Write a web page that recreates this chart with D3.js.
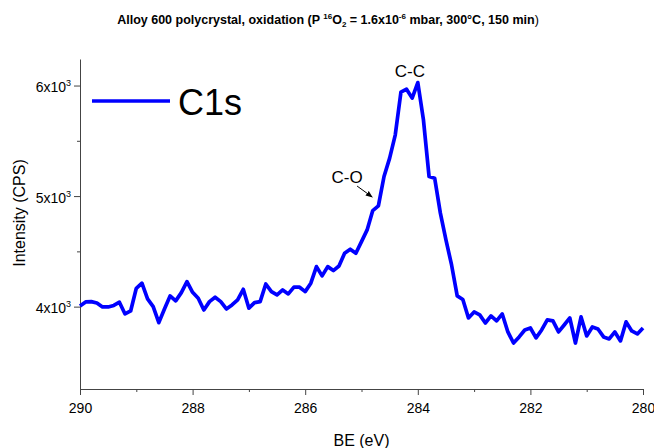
<!DOCTYPE html>
<html><head><meta charset="utf-8">
<script src="https://cdn.jsdelivr.net/npm/d3@7"></script>
<style>
body{margin:0;background:#fff;}
svg{display:block;font-family:"Liberation Sans",Arial,sans-serif;}
</style></head>
<body><svg id="c" width="654" height="448"></svg>
<script>
// Binding energy grid (eV), 0.1 eV steps from 290 to 280
const bindingEnergy = d3.range(0, 101).map(i => +(290 - i * 0.1).toFixed(1));
// C1s intensity (CPS)
const c1sIntensity = [
 4006,4043,4045,4033,3997,3997,4011,4040,3934,3961,
 4166,4212,4070,4000,3855,3979,4097,4052,4127,4226,
 4130,4076,3970,4045,4085,4045,3979,4015,4061,4157,
 3986,4036,4045,4205,4136,4106,4151,4115,4176,4176,
 4136,4212,4362,4278,4362,4326,4368,4483,4519,4483,
 4588,4694,4869,4911,5177,5343,5554,5940,5967,5886,
 6027,5690,5177,5162,4848,4604,4377,4097,4065,3898,
 3952,3925,3852,3916,3871,3934,3771,3671,3726,3789,
 3807,3717,3789,3880,3871,3771,3834,3898,3671,3907,
 3735,3816,3798,3726,3708,3771,3690,3862,3780,3753,
 3807
];
const xMajorTicks = [290, 288, 286, 284, 282, 280];
const xMinorTicks = [289, 287, 285, 283, 281];
const yMajorTicks = [4000, 5000, 6000];
const yMinorTicks = [4500, 5500];
const seriesName = "C1s";
// label anchor (be, value) and arrow tip (be, value)
const annotations = [
  {label: "C-C", be: 284.14, v: 6080},
  {label: "C-O", be: 284.83, v: 5118, tipBe: 284.81, tipV: 4992}
];

const svg = d3.select("#c");
const L = 80, R = 643, T = 59, B = 389;
const x = d3.scaleLinear().domain([290, 280]).range([L, R]);
const y = d3.scaleLinear().domain([3255, 6240]).range([B, T]);
const axisColor = "#444";

// Title
const title = svg.append("text").attr("x", 328).attr("y", 24).attr("text-anchor", "middle")
  .attr("font-size", 12.5).attr("font-weight", "bold").attr("fill", "#000");
title.append("tspan").text("Alloy 600 polycrystal, oxidation (P ");
title.append("tspan").attr("font-size", 8).attr("dy", -5).text("16");
title.append("tspan").attr("dy", 5).text("O");
title.append("tspan").attr("font-size", 8).attr("dy", 3).text("2");
title.append("tspan").attr("dy", -3).text(" = 1.6x10");
title.append("tspan").attr("font-size", 8).attr("dy", -5).text("-6");
title.append("tspan").attr("dy", 5).text(" mbar, 300°C, 150 min");
title.append("tspan").attr("font-weight", "normal").text(")");

// X axis
const gx = svg.append("g").attr("transform", `translate(0,${B})`)
  .call(d3.axisBottom(x).tickValues(xMajorTicks).tickFormat(d3.format("d")).tickSize(6).tickSizeOuter(0));
svg.append("g").attr("transform", `translate(0,${B})`)
  .call(d3.axisBottom(x).tickValues(xMinorTicks).tickFormat("").tickSize(3).tickSizeOuter(0))
  .select(".domain").remove();
// Y axis
const gy = svg.append("g").attr("transform", `translate(${L},0)`)
  .call(d3.axisLeft(y).tickValues(yMajorTicks).tickFormat(d => "").tickSize(6).tickSizeOuter(0));
svg.append("g").attr("transform", `translate(${L},0)`)
  .call(d3.axisLeft(y).tickValues(yMinorTicks).tickFormat("").tickSize(3).tickSizeOuter(0))
  .select(".domain").remove();
svg.selectAll(".domain, .tick line").attr("stroke", axisColor);
gx.selectAll("text").attr("font-size", 14).attr("fill", "#000").attr("font-family", "Liberation Sans, Arial, sans-serif").attr("dy", "1.05em");
gy.selectAll(".tick").each(function(d) {
  const t = d3.select(this).select("text").attr("font-size", 14).attr("fill", "#000")
    .attr("font-family", "Liberation Sans, Arial, sans-serif").attr("x", -9).attr("dy", "0.45em");
  t.text(null);
  t.append("tspan").text((d / 1000) + "x10");
  t.append("tspan").attr("font-size", 9).attr("dy", -6).text("3");
});

// Axis titles
svg.append("text").attr("x", (L + R) / 2).attr("y", 446).attr("text-anchor", "middle")
  .attr("font-size", 16).text("BE (eV)");
svg.append("text").attr("transform", "translate(25,213) rotate(-90)").attr("text-anchor", "middle")
  .attr("font-size", 16).text("Intensity (CPS)");

// Line
const data = bindingEnergy.map((e, i) => ({e, v: c1sIntensity[i]}));
svg.append("path").datum(data)
  .attr("fill", "none").attr("stroke", "#0000ff").attr("stroke-width", 3.7).attr("stroke-linejoin", "round")
  .attr("d", d3.line().x(d => x(d.e)).y(d => y(d.v)));

// Legend
svg.append("line").attr("x1", 92).attr("x2", 170).attr("y1", 101).attr("y2", 101)
  .attr("stroke", "#0000ff").attr("stroke-width", 3.7);
svg.append("text").attr("x", 178).attr("y", 115).attr("font-size", 36).text(seriesName);

// Annotations
const cc = annotations[0];
svg.append("text").attr("x", x(cc.be)).attr("y", y(cc.v)).attr("text-anchor", "middle")
  .attr("font-size", 17).text(cc.label);
const co = annotations[1];
svg.append("defs").append("marker").attr("id", "ah").attr("viewBox", "0 0 10 10")
  .attr("refX", 9).attr("refY", 5).attr("markerWidth", 7).attr("markerHeight", 7)
  .attr("orient", "auto").append("path").attr("d", "M0,1 L10,5 L0,9 Z").attr("fill", "#000");
svg.append("text").attr("x", x(co.be) - 24).attr("y", y(co.v)).attr("text-anchor", "middle")
  .attr("font-size", 17).text(co.label);
svg.append("line").attr("x1", x(co.be) - 14).attr("y1", y(co.v) + 3).attr("x2", x(co.tipBe)).attr("y2", y(co.tipV))
  .attr("stroke", "#000").attr("stroke-width", 1).attr("marker-end", "url(#ah)");
</script></body></html>
